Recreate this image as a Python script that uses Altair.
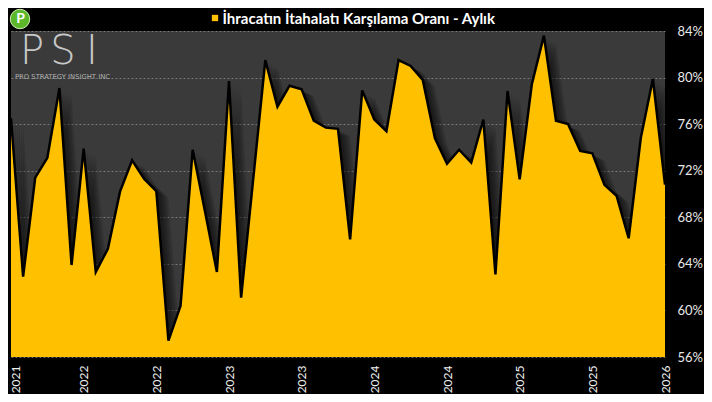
import altair as alt
import pandas as pd

# Monthly export/import coverage ratio (%)
values = [76.5, 62.9, 71.4, 73.1, 79.1, 63.9, 73.9, 63.3, 65.3, 70.2,
          72.9, 71.3, 70.25, 57.4, 60.4, 73.8, 68.6, 63.3, 79.7, 61.1,
          71.3, 81.5, 77.5, 79.3, 79.0, 76.3, 75.7, 75.6, 66.1, 78.9,
          76.4, 75.4, 81.5, 81.0, 79.8, 74.8, 72.6, 73.8, 72.7, 76.4,
          63.1, 78.85, 71.25, 79.4, 83.6, 76.3, 76.0, 73.7, 73.5, 70.8,
          69.85, 66.2, 74.8, 79.9, 70.8]
tick_labels = ["2021", "2022", "2022", "2023", "2023",
               "2024", "2024", "2025", "2025", "2026"]
tick_step = 6
y_ticks = [56, 60, 64, 68, 72, 76, 80, 84]
title_text = "İhracatın İtahalatı Karşılama Oranı - Aylık"

df = pd.DataFrame({"i": list(range(len(values))), "v": values})
df["base"] = 56

W, H = 654, 326
FONT = "Lato"
YELLOW = "#FFC000"

label_js = "[" + ",".join(f"'{t}'" for t in tick_labels) + "]"

xscale = alt.Scale(domain=[0, len(values) - 1], nice=False, zero=False)
yscale = alt.Scale(domain=[56, 84], nice=False, zero=False)

x_axis = alt.Axis(
    values=[k * tick_step for k in range(len(tick_labels))],
    labelExpr=f"{label_js}[round(datum.value/{tick_step})]",
    labelAngle=-90, labelColor="#f0f0f0", labelFontSize=12, labelFont=FONT,
    labelPadding=8, ticks=False, domain=False, grid=False, title=None,
    labelOffset={"condition": {"test": "datum.value == 0", "value": 4},
                 "value": 0},
    labelFlush=False, labelOverlap=False)
y_axis = alt.Axis(
    orient="right", values=y_ticks, labelExpr="datum.value + '%'",
    labelColor="#e8e8e8", labelFontSize=13, labelFont=FONT, labelPadding=12,
    ticks=False, domain=False, grid=True, gridColor="#9a9a9a",
    gridDash=[2, 2], gridWidth=0.8, gridOpacity=0.8, title=None)

x_enc = alt.X("i:Q", scale=xscale, axis=x_axis)
y_enc = alt.Y("v:Q", scale=yscale, axis=y_axis)

base = alt.Chart(df)

shadows = []
for dx, dy in [(2, 2), (4, 3), (6, 4), (8, 5), (10, 6), (12, 7)]:
    shadows.append(base.mark_area(color="black", opacity=0.13, xOffset=dx,
                                  yOffset=dy, clip=True).encode(
        x=x_enc, y=y_enc, y2="base:Q"))

area = base.mark_area(color=YELLOW, opacity=1, clip=True).encode(
    x=x_enc, y=y_enc, y2="base:Q")
line = base.mark_line(color="black", strokeWidth=2.5, strokeJoin="miter",
                      clip=True).encode(x=x_enc, y=y_enc)

one = pd.DataFrame({"a": [0]})
deco = alt.Chart(one)

title_sq = deco.mark_square(color=YELLOW, size=40, opacity=1).encode(
    x=alt.value(204), y=alt.value(-13))
title = deco.mark_text(text=title_text, font=FONT, fontSize=15,
                       fontWeight="bold", color="white", align="left",
                       baseline="middle").encode(
    x=alt.value(211.5), y=alt.value(-12.5))

logo_c = deco.mark_circle(size=380, color="#5cb82a", opacity=1,
                          stroke="#cfe8b0", strokeWidth=1).encode(
    x=alt.value(9), y=alt.value(-12))
logo_p = deco.mark_text(text="P", font=FONT, fontSize=14, fontWeight="bold",
                        color="white", baseline="middle", align="center").encode(
    x=alt.value(9.5), y=alt.value(-12))

wm = []
for ch, xx in [("P", 21), ("S", 52), ("I", 81)]:
    wm.append(deco.mark_text(text=ch, font="DejaVu Sans", fontSize=40,
                             fontWeight=200, color="#c8c8c8", align="center",
                             baseline="middle").encode(
        x=alt.value(xx), y=alt.value(21)))
wm_sub = deco.mark_text(text="PRO STRATEGY INSIGHT INC", font="DejaVu Sans",
                        fontSize=6.8, color="#b0b0b0", align="left",
                        baseline="middle").encode(
    x=alt.value(4), y=alt.value(46))

chart = alt.layer(*shadows, area, line, title_sq, title, logo_c, logo_p,
                  *wm, wm_sub).properties(
    width=W, height=H,
    autosize=alt.AutoSizeParams(type="none"),
    padding={"left": 3, "top": 23, "right": 39, "bottom": 37},
    background="black",
).configure_view(fill="#3a3a3a", stroke=None)

chart.save("out.html", embed_options={"renderer": "svg", "actions": False})
